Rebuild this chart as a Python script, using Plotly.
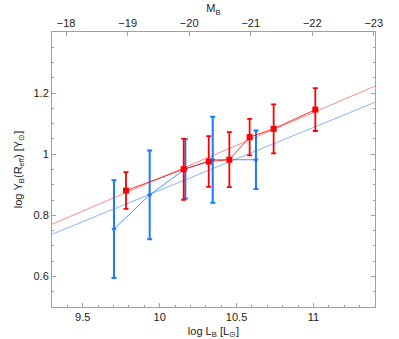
import plotly.graph_objects as go

# Data
red_x = [9.781, 10.156, 10.319, 10.453, 10.585, 10.741, 11.012]
red_y = [0.881, 0.951, 0.976, 0.982, 1.056, 1.083, 1.146]
red_err = [0.06, 0.10, 0.083, 0.09, 0.06, 0.08, 0.07]

blue_x = [9.703, 9.935, 10.167, 10.345, 10.626]
blue_y = [0.755, 0.867, 0.952, 0.982, 0.982]
blue_err = [0.16, 0.145, 0.097, 0.141, 0.096]

fit_x = [9.3, 11.4]
red_fit_y = [0.771, 1.223]
blue_fit_y = [0.738, 1.170]

mb_ticks = [-18, -19, -20, -21, -22, -23]
mb_labels = ["\u221218", "\u221219", "\u221220", "\u221221", "\u221222", "\u221223"]
mb_range = [-17.77, -23.02]

RED = "#ff0000"
BLUE = "#1e78ff"
RED_L = "#ff8a8a"
BLUE_L = "#86b4ff"
AX = "#a0a0a0"

fig = go.Figure()
fig.add_trace(go.Scatter(x=fit_x, y=blue_fit_y, mode="lines",
                         line=dict(color=BLUE_L, width=1), showlegend=False))
fig.add_trace(go.Scatter(x=fit_x, y=red_fit_y, mode="lines",
                         line=dict(color=RED_L, width=1), showlegend=False))
fig.add_trace(go.Scatter(x=blue_x, y=blue_y, mode="lines+markers",
                         line=dict(color=BLUE, width=0.8),
                         marker=dict(color=BLUE, size=4, symbol="diamond"),
                         error_y=dict(type="data", array=blue_err, color=BLUE,
                                      thickness=2, width=2.5),
                         showlegend=False))
fig.add_trace(go.Scatter(x=red_x, y=red_y, mode="lines+markers",
                         line=dict(color=RED, width=0.8),
                         marker=dict(color=RED, size=6, symbol="square"),
                         error_y=dict(type="data", array=red_err, color=RED,
                                      thickness=1.8, width=2.5),
                         showlegend=False))
# invisible trace on the top axis
fig.add_trace(go.Scatter(x=mb_range, y=[0.5, 0.5], xaxis="x2", mode="markers",
                         marker=dict(opacity=0), showlegend=False, hoverinfo="skip"))

font = dict(family="Liberation Sans, Arial, sans-serif", size=11, color="#222")

fig.update_layout(
    width=399, height=339,
    margin=dict(l=52, r=24, t=32, b=32, autoexpand=False),
    paper_bgcolor="white", plot_bgcolor="white",
    font=font,
    xaxis=dict(range=[9.3, 11.4], tickvals=[9.5, 10, 10.5, 11],
               ticktext=["9.5", "10", "10.5", "11"], automargin=False,
               ticks="inside", ticklen=4, tickcolor=AX,
               minor=dict(dtick=0.1, ticks="inside", ticklen=2, tickcolor=AX),
               showline=True, linecolor=AX, linewidth=1, showgrid=False,
               zeroline=False,
               title=dict(text="log L<sub>B</sub> [L<sub>\u2299</sub>]", standoff=5,
                          font=dict(size=11))),
    xaxis2=dict(overlaying="x", side="top", range=mb_range,
                tickvals=mb_ticks, ticktext=mb_labels, automargin=False,
                ticks="inside", ticklen=4, tickcolor=AX,
                showline=True, linecolor=AX, linewidth=1, showgrid=False,
                zeroline=False,
                title=dict(text="M<sub>B</sub>", standoff=1, font=dict(size=11))),
    yaxis=dict(range=[0.5, 1.4], tickvals=[0.6, 0.8, 1.0, 1.2],
               ticktext=["0.6", "0.8", "1", "1.2"], automargin=False,
               ticks="inside", ticklen=4, tickcolor=AX, mirror="ticks",
               minor=dict(dtick=0.05, ticks="inside", ticklen=2, tickcolor=AX),
               showline=True, linecolor=AX, linewidth=1, showgrid=False,
               zeroline=False,
               title=dict(text="log \u03a5<sub>B</sub>(R<sub>eff</sub>) [\u03a5<sub>\u2299</sub>]",
                          standoff=8, font=dict(size=11))),
)

fig.write_html("out.html", config={"displayModeBar": False},
               post_script="document.body.style.margin='0px';document.body.style.overflow='hidden';")
